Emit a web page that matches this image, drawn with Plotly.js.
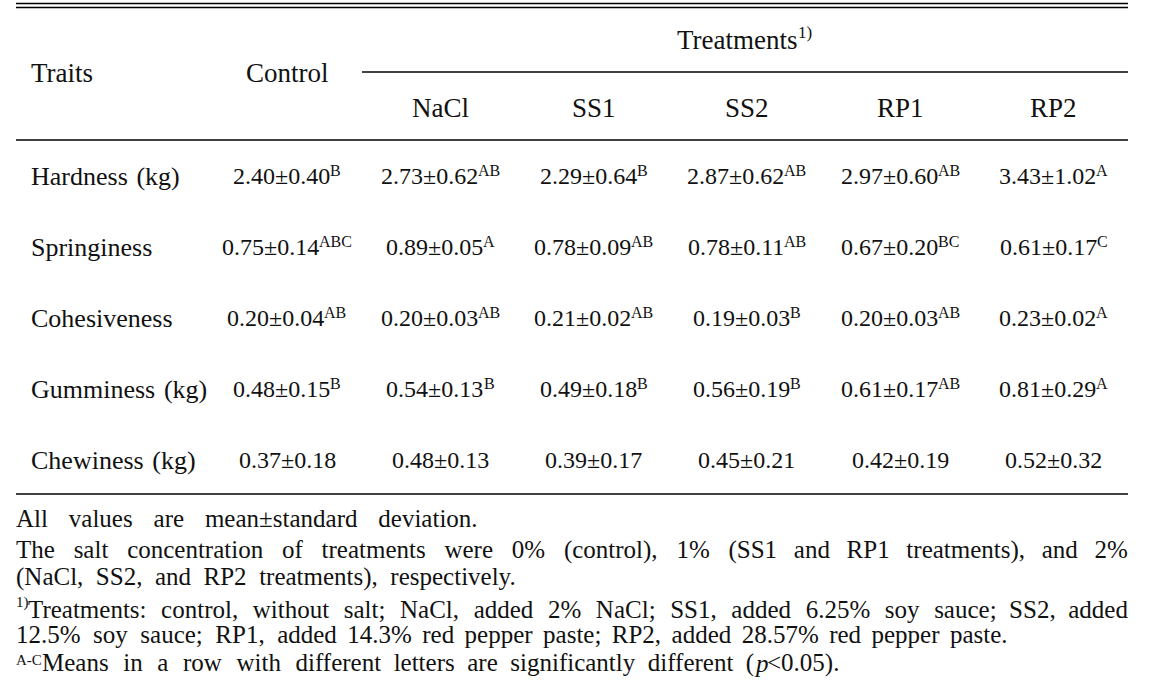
<!DOCTYPE html>
<html>
<head>
<meta charset="utf-8">
<script src="https://cdn.plot.ly/plotly-3.0.1.min.js"></script>
<style>html,body{margin:0;padding:0;background:#fff;}#chart{width:1167px;height:692px;}</style>
</head>
<body>
<div id="chart"></div>
<script>
// ---- data ----
var traits = ["Hardness (kg)", "Springiness", "Cohesiveness", "Gumminess (kg)", "Chewiness (kg)"];
var groups = ["Control", "NaCl", "SS1", "SS2", "RP1", "RP2"];
var treatmentHeader = "Treatments";
var treatmentNote = "1)";
var hardnessMean = [2.40, 2.73, 2.29, 2.87, 2.97, 3.43];
var hardnessSD   = [0.40, 0.62, 0.64, 0.62, 0.60, 1.02];
var hardnessSig  = ["B", "AB", "B", "AB", "AB", "A"];
var springMean = [0.75, 0.89, 0.78, 0.78, 0.67, 0.61];
var springSD   = [0.14, 0.05, 0.09, 0.11, 0.20, 0.17];
var springSig  = ["ABC", "A", "AB", "AB", "BC", "C"];
var cohesMean = [0.20, 0.20, 0.21, 0.19, 0.20, 0.23];
var cohesSD   = [0.04, 0.03, 0.02, 0.03, 0.03, 0.02];
var cohesSig  = ["AB", "AB", "AB", "B", "AB", "A"];
var gumMean = [0.48, 0.54, 0.49, 0.56, 0.61, 0.81];
var gumSD   = [0.15, 0.13, 0.18, 0.19, 0.17, 0.29];
var gumSig  = ["B", "B", "B", "B", "AB", "A"];
var chewMean = [0.37, 0.48, 0.39, 0.45, 0.42, 0.52];
var chewSD   = [0.18, 0.13, 0.17, 0.21, 0.19, 0.32];
var chewSig  = ["", "", "", "", "", ""];
var footnotes = [
  "All values are mean±standard deviation.",
  "The salt concentration of treatments were 0% (control), 1% (SS1 and RP1 treatments), and 2%",
  "(NaCl, SS2, and RP2 treatments), respectively.",
  "<sup>1)</sup>Treatments: control, without salt; NaCl, added 2% NaCl; SS1, added 6.25% soy sauce; SS2, added",
  "12.5% soy sauce; RP1, added 14.3% red pepper paste; RP2, added 28.57% red pepper paste.",
  "<sup>A-C</sup>Means in a row with different letters are significantly different (<i>p</i><0.05)."
];

// ---- layout helpers ----
var W = 1167, H = 692;
function px(x){ return x / W; }
function py(y){ return 1 - y / H; }
var FONT = "Liberation Serif";
var C = "#111";
var HEAD = 27, TRAIT = 26, CELL = 24, NOTE = 25;
var CELL_SUP = 16, HEAD_SUP = 17, NOTE_SUP = 15;

var cvs = document.createElement("canvas");
var ctx = cvs.getContext("2d");
function measure(str, size, italic){
  ctx.font = (italic ? "italic " : "") + size + "px '" + FONT + "'";
  return ctx.measureText(str).width;
}
function esc(s){ return s.replace(/</g, "&lt;"); }

var annotations = [];
function ann(o){
  o.showarrow = false; o.borderpad = 0; o.borderwidth = 0;
  o.font = o.font || {family: FONT, size: HEAD, color: C};
  annotations.push(o);
}

// ---- table body cells ----
var means = [hardnessMean, springMean, cohesMean, gumMean, chewMean];
var sds = [hardnessSD, springSD, cohesSD, gumSD, chewSD];
var sigs = [hardnessSig, springSig, cohesSig, gumSig, chewSig];
var hx = [], hy = [];
for (var r = 0; r < traits.length; r++) {
  for (var c = 0; c < groups.length; c++) {
    hx.push(groups[c]); hy.push(traits[r]);
    var main = means[r][c].toFixed(2) + "±" + sds[r][c].toFixed(2);
    var sup = sigs[r][c];
    var mw = measure(main, CELL, false);
    var sw = sup ? measure(sup, CELL_SUP, false) : 0;
    ann({text: main, xref: "x", x: groups[c], yref: "y", y: traits[r], xanchor: "center", yanchor: "middle",
         xshift: -sw / 2, font: {family: FONT, size: CELL, color: C}});
    if (sup) {
      ann({text: sup, xref: "x", x: groups[c], yref: "y", y: traits[r], xanchor: "left", yanchor: "middle",
           xshift: mw / 2 - sw / 2, yshift: 6, font: {family: FONT, size: CELL_SUP, color: C}});
    }
  }
}
// invisible anchor trace registering the category grid
var trace = {type: "scatter", mode: "markers", x: hx, y: hy, marker: {opacity: 0, size: 1},
             hoverinfo: "skip", showlegend: false};

// ---- header ----
ann({text: "Traits", xref: "paper", x: px(31), xanchor: "left", yref: "paper", y: py(73), yanchor: "middle"});
ann({text: groups[0], xref: "x", x: groups[0], xanchor: "center", yref: "paper", y: py(73), yanchor: "middle"});
(function(){
  var mw = measure(treatmentHeader, HEAD, false), sw = measure(treatmentNote, HEAD_SUP, false);
  ann({text: treatmentHeader, xref: "paper", x: px(745), xanchor: "center", xshift: -sw / 2, yref: "paper", y: py(40), yanchor: "middle"});
  ann({text: treatmentNote, xref: "paper", x: px(745), xanchor: "left", xshift: mw / 2 - sw / 2, yshift: 7,
       yref: "paper", y: py(40), yanchor: "middle", font: {family: FONT, size: HEAD_SUP, color: C}});
})();
for (var g = 1; g < groups.length; g++) {
  ann({text: groups[g], xref: "x", x: groups[g], xanchor: "center", yref: "paper", y: py(108), yanchor: "middle"});
}
for (var t = 0; t < traits.length; t++) {
  ann({text: traits[t].replace(" (", " \u200A("), xref: "paper", x: px(31), xanchor: "left", yref: "y", y: traits[t], yanchor: "middle",
       font: {family: FONT, size: TRAIT, color: C}});
}

// ---- footnotes (spaced / justified like the source) ----
function parsePieces(html){
  return html.split(/(<sup>.*?<\/sup>|<i>.*?<\/i>)/).filter(Boolean).map(function(p){
    var m;
    if ((m = p.match(/^<sup>(.*)<\/sup>$/))) return {text: m[1], size: NOTE_SUP, sup: true};
    if ((m = p.match(/^<i>(.*)<\/i>$/))) return {text: m[1], size: NOTE, italic: true};
    return {text: p, size: NOTE};
  });
}
var fnY = [518, 550, 577, 609, 634, 663];
var fnSupShift = [0, 0, 0, 7, 0, 3];
var fnLeft = 16;
var fnRight = [477, 1128, 515, 1128, 1008, 838];
for (var f = 0; f < footnotes.length; f++) {
  var pieces = parsePieces(footnotes[f]);
  var natural = 0, gaps = 0;
  pieces.forEach(function(p){
    natural += measure(p.text, p.size, p.italic);
    if (!p.sup) gaps += p.text.split(" ").length - 1;
  });
  var unit = measure("\u200A", NOTE, false);
  var n = (unit > 0 && gaps > 0) ? Math.max(0, Math.round((fnRight[f] - fnLeft - natural) / unit)) : 0;
  var base = gaps ? Math.floor(n / gaps) : 0, rem = gaps ? n - base * gaps : 0, gi = 0;
  var xcur = fnLeft;
  pieces.forEach(function(p){
    var txt = p.text;
    if (!p.sup && gaps) {
      txt = txt.split(" ").reduce(function(acc, w, i){
        if (i === 0) return w;
        gi++;
        var k = base + (gi <= rem ? 1 : 0);
        return acc + " " + new Array(k + 1).join("\u200A") + w;
      }, "");
    }
    var w = measure(txt, p.size, p.italic);
    ann({text: esc(txt), xref: "paper", x: px(xcur), xanchor: "left", yref: "paper", y: py(fnY[f]), yanchor: "middle",
         yshift: p.sup ? fnSupShift[f] : 0,
         font: {family: FONT, size: p.size, color: C, style: p.italic ? "italic" : "normal"}});
    xcur += w;
  });
}

// ---- rules ----
var shapes = [];
function hline(y, x0, x1, w){ shapes.push({type: "line", xref: "paper", yref: "paper", x0: px(x0), x1: px(x1), y0: py(y), y1: py(y), line: {color: "#000", width: w}}); }
hline(3.5, 16, 1128, 1.5);
hline(7.5, 16, 1128, 1.5);
hline(72, 362, 1128, 1.3);
hline(140, 16, 1128, 1.3);
hline(494, 16, 1128, 1.3);

var layout = {
  width: W, height: H,
  margin: {l: 0, r: 0, t: 0, b: 0, pad: 0},
  paper_bgcolor: "#fff", plot_bgcolor: "#fff",
  showlegend: false,
  font: {family: FONT, color: C},
  xaxis: {type: "category", categoryorder: "array", categoryarray: groups, range: [-287/153.3, (W-287)/153.3],
          visible: false, fixedrange: true},
  yaxis: {type: "category", categoryorder: "array", categoryarray: traits, range: [(H-176)/71, -176/71],
          visible: false, fixedrange: true},
  annotations: annotations,
  shapes: shapes
};

Plotly.newPlot("chart", [trace], layout, {displayModeBar: false});
</script>
</body>
</html>
